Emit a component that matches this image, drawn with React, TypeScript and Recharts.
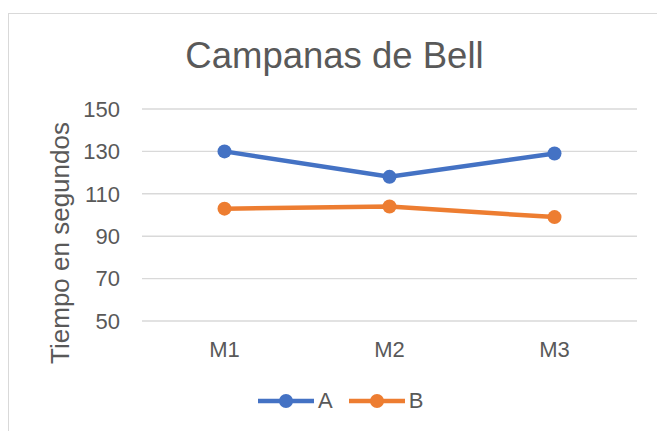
import React from 'react';
import { LineChart, Line, XAxis, YAxis, CartesianGrid, Legend, Customized } from 'recharts';

const categories = ['M1', 'M2', 'M3'];
const seriesA = [130, 118, 129];
const seriesB = [103, 104, 99];
const yTicks = [50, 70, 90, 110, 130, 150];
const seriesNames = ['A', 'B'];
const colors = ['#4472C4', '#ED7D31'];

const data = categories.map((c, i) => ({ name: c, A: seriesA[i], B: seriesB[i] }));

const FONT = '"Liberation Sans", Arial, sans-serif';
const TEXT = '#595959';

const LegendContent = () => (
  <div style={{ display: 'flex', alignItems: 'center', height: 24, fontFamily: FONT, fontSize: 22, color: TEXT, lineHeight: '24px' }}>
    {seriesNames.map((n, i) => (
      <div key={n} style={{ display: 'flex', alignItems: 'center', marginLeft: i === 0 ? 0 : 16 }}>
        <svg width={56} height={16} style={{ display: 'block' }}>
          <line x1={0} y1={8} x2={56} y2={8} stroke={colors[i]} strokeWidth={4.5} strokeLinecap="round" />
          <circle cx={28} cy={8} r={7} fill={colors[i]} />
        </svg>
        <span style={{ marginLeft: 4 }}>{n}</span>
      </div>
    ))}
  </div>
);

const Title = () => (
  <text x={334.5} y={68} textAnchor="middle" fontFamily={FONT} fontSize={36.5} fill={TEXT}>
    Campanas de Bell
  </text>
);

const YLabel = () => (
  <text
    x={69}
    y={243}
    transform="rotate(-90, 69, 243)"
    textAnchor="middle"
    fontFamily={FONT}
    fontSize={26}
    fill={TEXT}
  >
    Tiempo en segundos
  </text>
);

export default function App() {
  return (
    <div style={{ position: 'absolute', left: 0, top: 0, width: 657, height: 431, overflow: 'hidden', background: '#fff' }}>
      <div style={{ position: 'absolute', left: 8, top: 13, width: 800, height: 600, border: '1.5px solid #d9d9d9', boxSizing: 'border-box' }} />
      <div style={{ position: 'absolute', left: 0, top: 0 }}>
        <LineChart width={657} height={431} data={data} margin={{ top: 109, right: 20, bottom: 80, left: 0 }}>
          <CartesianGrid horizontal vertical={false} stroke="#d9d9d9" strokeWidth={1.4} />
          <XAxis
            dataKey="name"
            axisLine={false}
            tickLine={false}
            tickSize={0}
            tickMargin={20}
            height={30}
            padding={{ left: 82.5, right: 82.5 }}
            tick={{ fill: TEXT, fontSize: 22, fontFamily: FONT }}
          />
          <YAxis
            domain={[50, 150]}
            ticks={yTicks}
            axisLine={false}
            tickLine={false}
            tickSize={0}
            tickMargin={22}
            width={142}
            tick={{ fill: TEXT, fontSize: 22, fontFamily: FONT }}
          />
          <Line type="linear" dataKey="A" stroke={colors[0]} strokeWidth={4.5} dot={{ r: 7, fill: colors[0], stroke: 'none' }} activeDot={false} isAnimationActive={false} />
          <Line type="linear" dataKey="B" stroke={colors[1]} strokeWidth={4.5} dot={{ r: 7, fill: colors[1], stroke: 'none' }} activeDot={false} isAnimationActive={false} />
          <Legend layout="horizontal" verticalAlign="middle" align="center" content={<LegendContent />} wrapperStyle={{ top: 389, left: 258, width: 'auto' }} />
          <Customized component={Title} />
          <Customized component={YLabel} />
        </LineChart>
      </div>
    </div>
  );
}
